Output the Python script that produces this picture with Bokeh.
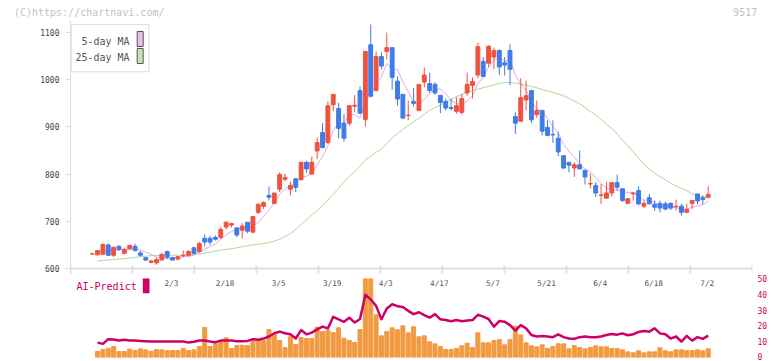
import numpy as np
from bokeh.plotting import figure
from bokeh.layouts import column
from bokeh.models import Range1d, FixedTicker, ColumnDataSource
from bokeh.core.properties import value
from bokeh.embed import file_html
from bokeh.resources import INLINE

# ---- daily prices (trading-day index 0 = 2020/1/10 ... 115 = 2020/7/2) ----
opens = [631, 629, 630, 650, 628, 647, 632, 642, 647, 633,
         623, 613, 612, 618, 636, 623, 620, 627, 628, 644,
         636, 664, 664, 666, 666, 688, 692, 686, 681, 698,
         677, 719, 732, 755, 738, 768, 789, 768, 790, 788,
         825, 800, 849, 888, 867, 947, 939, 908, 908, 944,
         977, 916, 1074, 977, 1049, 1060, 1068, 997, 969, 924,
         954, 935, 995, 992, 990, 967, 954, 941, 933, 931,
         972, 988, 1010, 1039, 1035, 1048, 1062, 1036, 1062, 922,
         912, 957, 977, 926, 935, 899, 884, 876, 839, 825,
         813, 820, 808, 779, 776, 755, 749, 760, 782, 769,
         738, 758, 765, 732, 750, 736, 738, 737, 738, 731,
         732, 719, 738, 758, 750, 751]
highs = [632, 639, 653, 653, 645, 649, 644, 650, 652, 637,
         623, 618, 623, 633, 638, 625, 626, 638, 639, 645,
         656, 672, 669, 670, 688, 700, 697, 688, 696, 698,
         711, 738, 742, 774, 760, 804, 801, 784, 791, 825,
         828, 837, 878, 908, 954, 969, 951, 927, 946, 967,
         986, 1060, 1117, 1060, 1058, 1100, 1068, 1007, 969, 956,
         983, 990, 1026, 1015, 995, 967, 960, 960, 963, 970,
         1015, 1005, 1078, 1048, 1073, 1068, 1064, 1048, 1075, 931,
         1003, 998, 977, 956, 935, 914, 914, 890, 840, 825,
         825, 850, 808, 801, 783, 779, 783, 782, 799, 769,
         748, 762, 774, 744, 758, 744, 744, 742, 740, 746,
         737, 737, 744, 758, 755, 774]
lows = [630, 628, 629, 627, 624, 637, 632, 640, 636, 625,
        616, 611, 608, 617, 620, 617, 617, 624, 625, 630,
        633, 647, 650, 659, 663, 683, 687, 666, 664, 675,
        676, 715, 726, 744, 736, 762, 785, 755, 762, 787,
        803, 799, 832, 855, 864, 933, 876, 869, 902, 931,
        929, 901, 965, 977, 1022, 1043, 979, 945, 916, 914,
        943, 933, 984, 972, 968, 929, 935, 935, 928, 926,
        966, 960, 1003, 1006, 1027, 1022, 1010, 1009, 988, 885,
        912, 935, 908, 919, 882, 880, 866, 838, 811, 804,
        794, 810, 778, 770, 751, 737, 749, 753, 765, 741,
        737, 744, 734, 728, 736, 722, 719, 723, 724, 723,
        712, 719, 726, 736, 736, 749]
closes = [631, 638, 651, 628, 645, 640, 640, 649, 638, 628,
          618, 616, 619, 630, 624, 618, 625, 628, 636, 632,
          653, 656, 656, 662, 683, 698, 695, 671, 690, 679,
          710, 736, 740, 751, 760, 799, 793, 776, 772, 825,
          811, 825, 867, 856, 945, 969, 897, 876, 945, 946,
          929, 1060, 965, 1049, 1029, 1068, 1005, 959, 919, 925,
          950, 990, 1010, 977, 972, 952, 940, 939, 945, 960,
          990, 996, 1070, 1007, 1071, 1062, 1027, 1031, 1022, 908,
          962, 966, 915, 935, 891, 882, 883, 847, 813, 819,
          820, 811, 794, 780, 760, 756, 760, 782, 772, 744,
          748, 760, 737, 738, 737, 730, 728, 726, 728, 732,
          719, 725, 744, 743, 746, 757]

# ---- moving averages, volume and AI-Predict (from trading-day index 1) ----
ma5 = [634, 637, 638, 638.6, 640.4, 640.8, 640.4, 642.4, 639, 634.6,
       629.8, 623.8, 622.2, 621.4, 621.4, 623.2, 625, 626.2, 627.8, 634.8,
       641, 646.6, 651.8, 662, 671, 678.8, 681.8, 687.4, 686.6, 689,
       697.2, 711, 723.2, 739.4, 757.2, 768.6, 775.8, 780, 793, 795.4,
       801.8, 820, 836.8, 860.8, 892.4, 906.8, 908.6, 926.4, 926.6, 918.6,
       951.2, 969, 989.8, 1006.4, 1034.2, 1023.2, 1022, 996, 975.2, 951.6,
       948.6, 958.8, 970.4, 979.8, 980.2, 970.2, 956, 949.6, 947.2, 954.8,
       966, 992.2, 1004.6, 1026.8, 1041.2, 1047.4, 1039.6, 1042.6, 1010, 990,
       977.8, 954.6, 937.2, 933.8, 917.8, 901.2, 887.6, 863.2, 848.8, 836.4,
       822, 811.4, 804.8, 793, 780.2, 770, 767.6, 766, 762.8, 761.2,
       761.2, 752.2, 745.4, 744, 740.4, 734, 731.8, 729.8, 728.8, 726.6,
       726, 729.6, 732.6, 735.4, 743]
ma25 = [616, 617, 618, 619, 620, 621, 622, 623.5, 625, 626,
        627, 627.5, 627.5, 627.5, 628, 628, 628.5, 629, 630, 631,
        632.5, 634.5, 637, 639, 640.5, 642, 644, 646, 648, 650,
        651.5, 653, 655, 658, 662, 667, 674, 683, 693, 703,
        713, 723, 734, 745, 757, 770, 784, 795, 805, 817,
        830, 838, 846, 853, 865, 877, 886, 895, 903, 911,
        918, 927, 935, 941, 946, 952, 958, 964, 969, 973,
        977, 980, 983, 986, 989, 992, 994, 994, 993, 991,
        988, 986, 983, 979, 976, 973, 970, 966, 961, 955,
        949, 941, 933, 925, 916, 906, 897, 885, 872, 860,
        847, 834, 821, 811, 802, 795, 788, 781, 775, 770,
        765, 758, 755, 752, 750]
volume = [180, 240, 280, 330, 180, 180, 250, 210, 260, 230,
          190, 240, 230, 210, 210, 210, 270, 210, 230, 330,
          900, 330, 420, 510, 590, 270, 360, 370, 360, 530,
          530, 510, 840, 700, 510, 300, 620, 390, 600, 570,
          570, 910, 780, 820, 750, 890, 580, 510, 450, 840,
          3200, 3050, 1280, 650, 780, 890, 830, 950, 740, 920,
          620, 650, 470, 410, 330, 240, 240, 270, 350, 430,
          300, 740, 440, 440, 510, 540, 380, 540, 940, 680,
          440, 350, 320, 380, 270, 330, 410, 410, 260, 360,
          300, 260, 300, 350, 320, 320, 270, 270, 230, 170,
          140, 200, 140, 170, 170, 290, 200, 170, 230, 230,
          210, 210, 230, 200, 260]
ai_predict = [9.2, 8.4, 11.4, 11.2, 10.5, 11.0, 10.5, 10.5, 10.3, 10.1,
              9.9, 9.9, 9.9, 9.9, 9.9, 9.9, 9.9, 9.2, 9.7, 10.5,
              10.5, 9.9, 9.5, 10.5, 10.5, 10.5, 10.1, 10.1, 10.3, 11.4,
              11.0, 11.8, 13.1, 15.2, 16.2, 15.2, 14.5, 11.8, 17.2, 14.5,
              15.6, 17.7, 19.4, 18.3, 25.7, 24.0, 22.5, 25.1, 22.1, 24.3,
              39.8, 36.8, 32.7, 24.1, 31.0, 33.7, 32.5, 32.0, 29.5, 27.4,
              28.6, 26.8, 25.1, 27.4, 24.1, 23.6, 22.8, 23.6, 22.8, 23.4,
              23.6, 27.0, 25.8, 24.3, 19.4, 23.0, 22.5, 20.4, 16.9, 20.4,
              18.3, 14.1, 13.1, 13.5, 13.1, 12.7, 14.5, 12.7, 11.8, 11.6,
              12.7, 13.1, 12.7, 12.7, 13.1, 14.1, 14.7, 14.3, 15.1, 13.9,
              14.5, 16.0, 16.6, 16.2, 18.3, 15.1, 14.5, 11.8, 13.1, 9.9,
              13.5, 10.5, 12.7, 11.6, 13.7]

date_labels = ["2/3", "2/18", "3/5", "3/19", "4/3", "4/17", "5/7", "5/21", "6/4", "6/18", "7/2"]
date_label_pos = [15, 25, 35, 45, 55, 65, 75, 85, 95, 105, 115]
price_ticks = [600, 700, 800, 900, 1000, 1100]
ai_ticks = [0, 10, 20, 30, 40, 50]

# ---- styling ----
RED = "#f0523f"
BLUE = "#3f7be9"
PINK = "#e3a6e3"
GREEN = "#acd89b"
ORANGE = "#f29a42"
MAGENTA = "#cc0066"
AXIS_GRAY = "#e0e0e0"
MONO = value("DejaVu Sans Mono")

W = 772
X_START, X_END = -4.05, 123.27
PRICE_LO, PRICE_HI = 589.4, 1125.5   # frame spans 5px below the 600 baseline for tick marks
PX = 2.119                           # price units per pixel
BORDER = dict(min_border_left=70, min_border_right=20)

o = np.array(opens, dtype=float)
h = np.array(highs, dtype=float)
l = np.array(lows, dtype=float)
c = np.array(closes, dtype=float)
x = np.arange(len(c))
colors = np.where(c >= o, RED, BLUE)

candles = ColumnDataSource(dict(
    x=x, top=np.maximum(o, c), bottom=np.minimum(o, c),
    high=h, low=l, color=colors,
))

xi = np.arange(1, 1 + len(ma5))
xv = np.arange(1, 1 + len(volume))


def bare(fig):
    fig.grid.visible = False
    fig.outline_line_color = None
    return fig


x_range = Range1d(X_START, X_END)

# ---------------- header strip: copyright and ticker code ----------------
HEAD_LEFT, HEAD_RIGHT = -0.56, 121.9
ph = bare(figure(width=W, height=20, x_range=x_range, y_range=Range1d(0, 1),
                 output_backend="svg", toolbar_location=None,
                 min_border_top=0, min_border_bottom=0, **BORDER,
                 x_axis_location="below", y_axis_location=None))
hx = ph.xaxis[0]
hx.ticker = FixedTicker(ticks=[HEAD_LEFT, HEAD_RIGHT])
hx.major_label_overrides = {HEAD_LEFT: "(C)https://chartnavi.com/", HEAD_RIGHT: "9517"}
hx.axis_line_color = None
hx.major_tick_line_color = None
hx.minor_tick_line_color = None
hx.major_tick_out = 0
hx.major_tick_in = 0
hx.major_label_standoff = 0
hx.major_label_text_font = "DejaVu Sans Mono"
hx.major_label_text_font_size = "10px"
hx.major_label_text_color = "#c2c2c2"

# ---------------- price panel ----------------
pa = bare(figure(width=W, height=254,
                 x_range=x_range, y_range=Range1d(PRICE_LO, PRICE_HI),
                 output_backend="svg", toolbar_location=None,
                 min_border_top=0, min_border_bottom=1, **BORDER,
                 x_axis_location=None))

pa.line(xi, ma25, color=GREEN, line_width=1)
pa.line(xi, ma5, color=PINK, line_width=1)

pa.segment(x0="x", y0="low", x1="x", y1="high", color="color", line_width=1, source=candles)
pa.vbar(x="x", width=0.72, top="top", bottom="bottom",
        fill_color="color", line_color="color", line_width=1, source=candles)

# time axis: baseline with evenly spaced tick marks
grid_x = np.linspace(X_START, X_END, 12)
pa.segment(x0=[X_START], y0=[600], x1=[X_END], y1=[600], color=AXIS_GRAY, line_width=2)
pa.segment(x0=grid_x, y0=600 + 3 * PX, x1=grid_x, y1=PRICE_LO, color=AXIS_GRAY, line_width=2)

# legend box
pa.quad(left=[-3.92], right=[10.57], top=[1117], bottom=[1016.8],
        fill_color="white", line_color="#dddddd", line_width=1)
pa.text(x=[6.98, 6.98], y=[1081, 1047], text=["5-day MA", "25-day MA"],
        text_align="right", text_baseline="middle", text_font=MONO,
        text_font_size="10px", text_color="#555555")
pa.quad(left=[8.4, 8.4], right=[9.52, 9.52], top=[1102.2, 1066.2], bottom=[1070.4, 1034.4],
        fill_color=["#ecbcec", "#c3e2b6"], line_color="#555555", line_width=1)

ya = pa.yaxis[0]
ya.ticker = FixedTicker(ticks=price_ticks)
ya.axis_line_color = "#dddddd"
ya.major_tick_line_color = "#dddddd"
ya.major_tick_out = 5
ya.major_tick_in = 0
ya.minor_tick_line_color = None
ya.major_label_standoff = 6
ya.major_label_text_font = "DejaVu Sans Mono"
ya.major_label_text_font_size = "8px"
ya.major_label_text_color = "#444444"

# ---------------- volume / AI-Predict panel ----------------
pb = bare(figure(width=W, height=87, x_range=x_range,
                 y_range=Range1d(-0.32, 50.19),
                 output_backend="svg", toolbar_location=None,
                 min_border_top=4, min_border_bottom=4, **BORDER,
                 x_axis_location=None, y_axis_location="right"))
pb.extra_y_ranges = {"vol": Range1d(0, 2370)}

pb.vbar(x=xv, top=volume, bottom=0, width=0.75, color=ORANGE, y_range_name="vol")
pb.line(xv, ai_predict, color=MAGENTA, line_width=2.5, line_join="round")

pb.text(x=date_label_pos, y=[47.3] * len(date_labels), text=date_labels,
        text_align="center", text_baseline="middle", x_offset=-1,
        text_font=MONO, text_font_size="7.7px", text_color="#555555")
pb.text(x=[-2.93], y=[45.1], text=["AI-Predict"], text_align="left",
        text_baseline="middle", text_font=MONO, text_font_size="10px",
        text_color=MAGENTA)
pb.quad(left=[9.45], right=[10.7], top=[51.4], bottom=[40.8],
        fill_color=MAGENTA, line_color=None)

ra = pb.yaxis[0]
ra.ticker = FixedTicker(ticks=ai_ticks)
ra.axis_line_color = None
ra.major_tick_line_color = None
ra.minor_tick_line_color = None
ra.major_tick_out = 0
ra.major_tick_in = 0
ra.major_label_standoff = 5
ra.major_label_text_font = "DejaVu Sans Mono"
ra.major_label_text_font_size = "8px"
ra.major_label_text_color = MAGENTA

layout = column(ph, pa, pb, spacing=0)
open("out.html", "w").write(file_html(layout, INLINE))
